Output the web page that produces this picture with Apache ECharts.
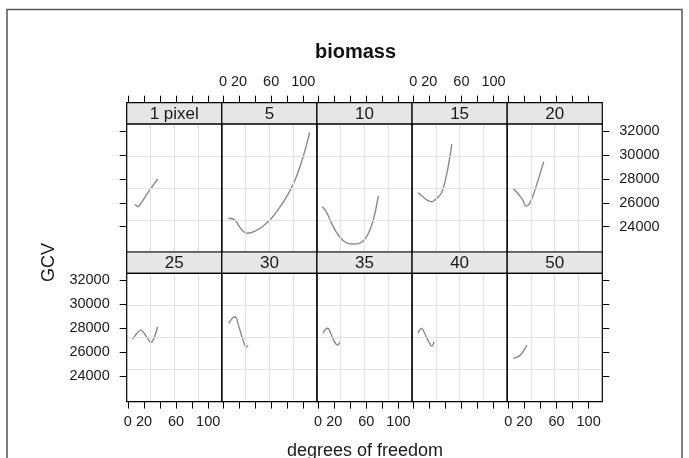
<!DOCTYPE html>
<html><head><meta charset="utf-8">
<script src="https://cdn.jsdelivr.net/npm/echarts@6/dist/echarts.min.js"></script>
<style>html,body{margin:0;padding:0;background:#fff}#c{width:689px;height:458px}</style>
</head><body><div id="c"></div>
<script>
// ---- data ----
const panels = ["1 pixel","5","10","15","20","25","30","35","40","50"];
const df_1   = [9,11,13,16,20,25,30,37];
const gcv_1  = [25870,25720,25680,25930,26330,26850,27320,27990];
const df_5   = [6.6,10,15,20,25,30,40,50,60,70,80,90,100,108];
const gcv_5  = [24700,24680,24560,24050,23620,23440,23620,24050,24680,25550,26600,27950,29900,31900];
const df_10  = [5,10,15,22,30,36,43,52,59,65,70,75];
const gcv_10 = [25670,25250,24550,23600,22900,22620,22540,22620,23020,23800,24900,26570];
const df_15  = [6,12,18,23,28,35,40,44,48];
const gcv_15 = [26840,26500,26200,26090,26300,26800,27900,29200,30920];
const df_20  = [6,12,18,22,26,31,37,44];
const gcv_20 = [27210,26750,26230,25700,25900,26650,27900,29440];
const df_25  = [6,11,16,20,25,29,33,37];
const gcv_25 = [27090,27550,27840,27600,27100,26820,27250,28120];
const df_30  = [7,11,15,19,24,29,31];
const gcv_30 = [28410,28800,28960,28300,27200,26400,26590];
const df_35  = [6,9,12,16,20,24,28];
const gcv_35 = [27570,27900,27990,27500,26900,26590,26870];
const df_40  = [6,8,10,14,19,23,26];
const gcv_40 = [27570,27850,27990,27600,26900,26510,26870];
const df_50  = [6,10,14,18,23];
const gcv_50 = [25480,25550,25700,26000,26590];
const xTicks  = [0,20,40,60,80,100];
const xLabels = [0,20,60,100];
const yTicks  = [24000,26000,28000,30000,32000];
const xRange = [-1.5, 117];
const yRange = [21850, 32600];
const title = "biomass", xName = "degrees of freedom", yName = "GCV";

const seriesX = [df_1,df_5,df_10,df_15,df_20,df_25,df_30,df_35,df_40,df_50];
const seriesY = [gcv_1,gcv_5,gcv_10,gcv_15,gcv_20,gcv_25,gcv_30,gcv_35,gcv_40,gcv_50];

// ---- layout ----
const L0 = 126.7, PW = 95.12, PH = 128.3, SH = 21.3;
const rowTop = [124, 273.3];
const FONT = "Liberation Sans, Arial, sans-serif";
const txt = '#1a1a1a';
const gridCol = '#e2e2e2';
const fmt = v => String(v);

const xq = [1,2,3].map(k => xRange[0] + (xRange[1] - xRange[0]) * k / 4);
const yq = [1,2,3].map(k => yRange[0] + (yRange[1] - yRange[0]) * k / 4);

const grids = [], xAxes = [], yAxes = [], series = [], graphics = [];
panels.forEach((name, i) => {
  const r = Math.floor(i / 5), c = i % 5;
  const left = L0 + c * PW, top = rowTop[r];
  grids.push({left: left, top: top, width: PW, height: PH, containLabel: false, outerBoundsMode: 'none'});
  const showXLab = (r === 1 && (c === 0 || c === 2 || c === 4));
  xAxes.push({
    type: 'value', gridIndex: i, min: xRange[0], max: xRange[1], position: 'bottom',
    show: r === 1,
    axisLine: {show: false, onZero: false},
    axisTick: {show: true, customValues: xTicks, length: 7, lineStyle: {color: '#000', width: 1}},
    axisLabel: {show: showXLab, customValues: xLabels, margin: 13, color: txt, fontSize: 14.5, fontFamily: FONT, formatter: fmt},
    splitLine: {show: false}
  });
  const yTickShow = (c === 0 || c === 4);
  const showYLab = (c === 0 && r === 1) || (c === 4 && r === 0);
  yAxes.push({
    type: 'value', gridIndex: i, min: yRange[0], max: yRange[1],
    position: c === 4 ? 'right' : 'left',
    show: yTickShow,
    axisLine: {show: false, onZero: false},
    axisTick: {show: true, customValues: yTicks, length: 7, lineStyle: {color: '#000', width: 1}},
    axisLabel: {show: showYLab, customValues: yTicks, margin: 17, color: txt, fontSize: 14.5, fontFamily: FONT, formatter: fmt},
    splitLine: {show: false}
  });
  const pts = seriesX[i].map((x, k) => [x, seriesY[i][k]]);
  // background grid lines (panel quarters)
  series.push({
    type: 'line', xAxisIndex: i, yAxisIndex: i, showSymbol: false, silent: true, z: 1,
    lineStyle: {opacity: 0, width: 0}, data: pts,
    markLine: {silent: true, symbol: ['none', 'none'], label: {show: false}, animation: false,
      lineStyle: {type: 'solid', color: gridCol, width: 1},
      emphasis: {disabled: true},
      data: xq.map(v => ({xAxis: v})).concat(yq.map(v => ({yAxis: v})))}
  });
  series.push({
    type: 'line', xAxisIndex: i, yAxisIndex: i, smooth: 0.4, showSymbol: false, silent: true, z: 3,
    lineStyle: {color: '#8a8a8a', width: 1.4},
    data: pts
  });
  // strip
  graphics.push({type: 'rect', shape: {x: left, y: top - SH, width: PW, height: SH},
    style: {fill: '#e6e6e6', stroke: '#000', lineWidth: 1.2}, z: 10});
  graphics.push({type: 'text', x: left + PW / 2, y: top - SH / 2 + 0.5,
    style: {text: name, fill: txt, font: '17px ' + FONT, textAlign: 'center', textVerticalAlign: 'middle'}, z: 11});
  // panel border
  graphics.push({type: 'rect', shape: {x: left, y: top, width: PW, height: PH},
    style: {fill: null, stroke: '#000', lineWidth: 1.2}, z: 10});
});

// top axis grids (span strip + panel of row 1) for ticks above the strips
for (let c = 0; c < 5; c++) {
  const gi = grids.length;
  grids.push({left: L0 + c * PW, top: rowTop[0] - SH, width: PW, height: PH + SH, containLabel: false, outerBoundsMode: 'none'});
  xAxes.push({
    type: 'value', gridIndex: gi, min: xRange[0], max: xRange[1], position: 'top',
    axisLine: {show: false, onZero: false},
    axisTick: {show: true, customValues: xTicks, length: 7, lineStyle: {color: '#000', width: 1}},
    axisLabel: {show: c === 1 || c === 3, customValues: xLabels, margin: 13, color: txt, fontSize: 14.5, fontFamily: FONT, formatter: fmt},
    splitLine: {show: false}
  });
  yAxes.push({type: 'value', gridIndex: gi, min: 0, max: 1, show: false, axisLine: {onZero: false}, splitLine: {show: false}});
}

graphics.push({type: 'text', x: 355.5, y: 52, style: {text: title, fill: '#111', font: 'bold 20px ' + FONT, textAlign: 'center', textVerticalAlign: 'middle'}, z: 11});
graphics.push({type: 'text', x: 365, y: 451, style: {text: xName, fill: txt, font: '18px ' + FONT, textAlign: 'center', textVerticalAlign: 'middle'}, z: 11});
graphics.push({type: 'text', x: 49, y: 262.5, rotation: Math.PI / 2, style: {text: yName, fill: txt, font: '18px ' + FONT, textAlign: 'center', textVerticalAlign: 'middle'}, z: 11});
// outer frame
graphics.push({type: 'rect', shape: {x: 7, y: 9.5, width: 675, height: 470},
  style: {fill: null, stroke: '#555', lineWidth: 1.5}, z: 11});

const chart = echarts.init(document.getElementById('c'), null, {renderer: 'canvas'});
chart.setOption({
  animation: false,
  backgroundColor: '#fff',
  grid: grids, xAxis: xAxes, yAxis: yAxes, series: series, graphic: graphics
});
</script></body></html>
